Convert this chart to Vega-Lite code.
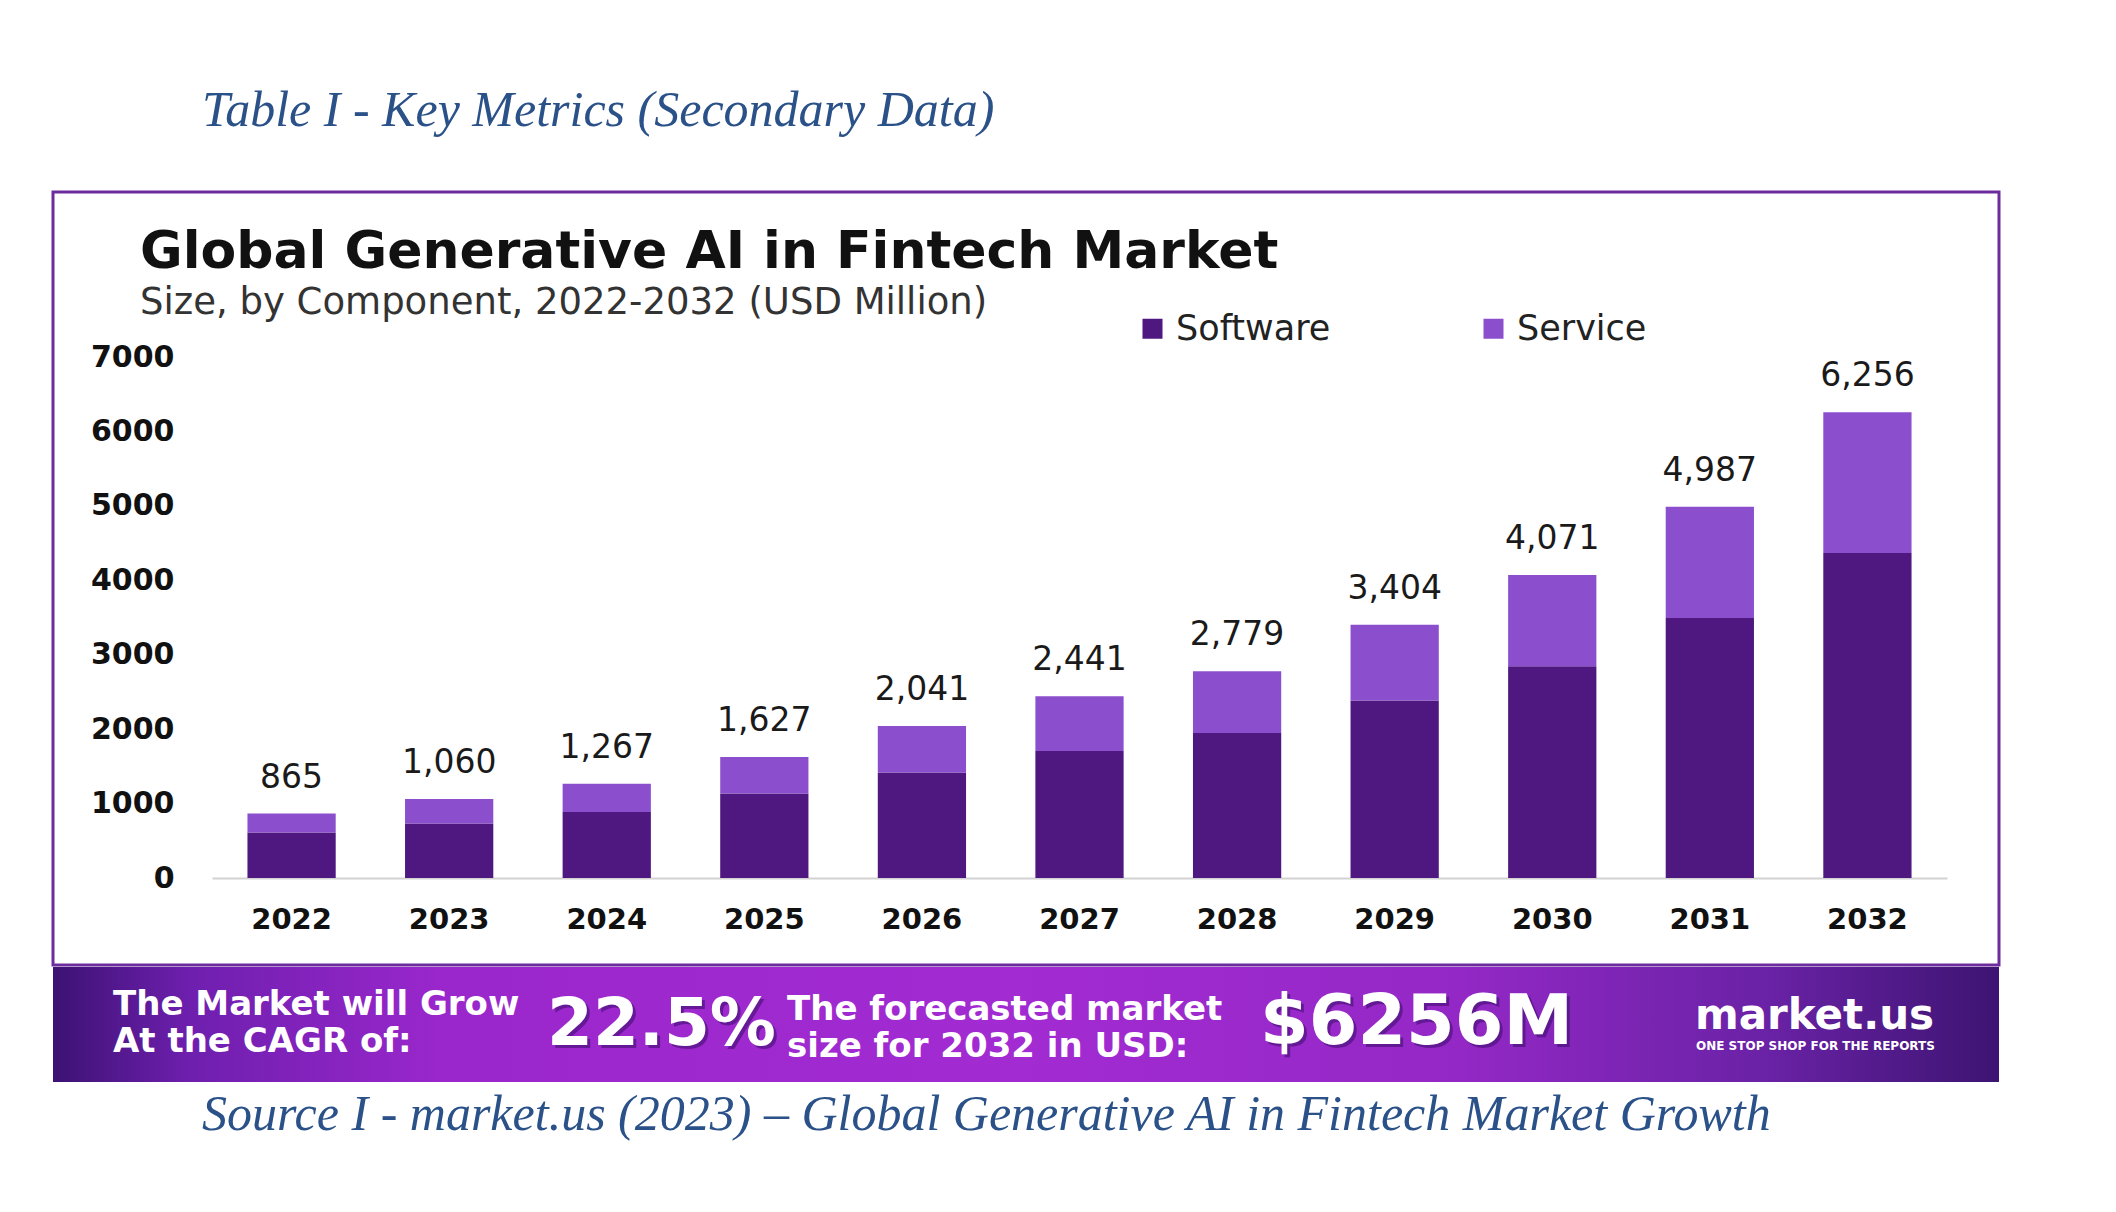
{
  "$schema": "https://vega.github.io/schema/vega-lite/v6.json",
  "background": "#ffffff",
  "padding": {"left": 51, "right": 119, "top": 85, "bottom": 68},
  "spacing": 0,
  "title": {
    "text": "Table I - Key Metrics (Secondary Data)",
    "anchor": "start",
    "frame": "group",
    "dx": 149,
    "offset": 55,
    "font": "Liberation Serif",
    "fontStyle": "italic",
    "fontWeight": "normal",
    "fontSize": 50,
    "color": "#2b5189"
  },
  "config": {
    "view": {"stroke": null}
  },
  "vconcat": [
    {
      "width": 1946,
      "height": 773,
      "view": {"stroke": "#6c2c9e", "strokeWidth": 3, "fill": "#ffffff"},
      "title": {
        "text": "Global Generative AI in Fintech Market",
        "subtitle": "Size, by Component, 2022-2032 (USD Million)",
        "anchor": "start",
        "frame": "group",
        "dx": 87,
        "offset": -130,
        "font": "DejaVu Sans",
        "fontSize": 52,
        "fontWeight": "bold",
        "color": "#111111",
        "subtitleFont": "DejaVu Sans",
        "subtitleFontSize": 37,
        "subtitleColor": "#333333",
        "subtitlePadding": 6
      },
      "data": {
        "values": [
          {"year": "2022", "component": "Software", "value": 611},
          {"year": "2022", "component": "Service", "value": 254},
          {"year": "2023", "component": "Software", "value": 732},
          {"year": "2023", "component": "Service", "value": 328},
          {"year": "2024", "component": "Software", "value": 887},
          {"year": "2024", "component": "Service", "value": 380},
          {"year": "2025", "component": "Software", "value": 1135},
          {"year": "2025", "component": "Service", "value": 492},
          {"year": "2026", "component": "Software", "value": 1419},
          {"year": "2026", "component": "Service", "value": 622},
          {"year": "2027", "component": "Software", "value": 1707},
          {"year": "2027", "component": "Service", "value": 734},
          {"year": "2028", "component": "Software", "value": 1949},
          {"year": "2028", "component": "Service", "value": 830},
          {"year": "2029", "component": "Software", "value": 2384},
          {"year": "2029", "component": "Service", "value": 1020},
          {"year": "2030", "component": "Software", "value": 2846},
          {"year": "2030", "component": "Service", "value": 1225},
          {"year": "2031", "component": "Software", "value": 3493},
          {"year": "2031", "component": "Service", "value": 1494},
          {"year": "2032", "component": "Software", "value": 4368},
          {"year": "2032", "component": "Service", "value": 1888}
        ]
      },
      "encoding": {
        "x": {
          "field": "year",
          "type": "ordinal",
          "scale": {"range": [159, 1894], "paddingInner": 0.44, "paddingOuter": 0.225},
          "axis": {
            "title": null,
            "orient": "bottom",
            "offset": -87,
            "domainColor": "#d2d2d2",
            "domainWidth": 2,
            "ticks": false,
            "tickSize": 0,
            "labelAngle": 0,
            "labelFont": "DejaVu Sans",
            "labelFontWeight": "bold",
            "labelFontSize": 29,
            "labelColor": "#111111",
            "labelPadding": 41,
            "labelBaseline": "middle"
          }
        }
      },
      "layer": [
        {
          "mark": {"type": "bar"},
          "encoding": {
            "y": {
              "field": "value",
              "type": "quantitative",
              "stack": "zero",
              "scale": {"domain": [0, 7000], "range": [686, 165], "nice": false},
              "axis": {
                "title": null,
                "orient": "left",
                "offset": -159,
                "domain": false,
                "ticks": false,
                "tickSize": 0,
                "grid": false,
                "values": [0, 1000, 2000, 3000, 4000, 5000, 6000, 7000],
                "format": "d",
                "labelFont": "DejaVu Sans",
                "labelFontWeight": "bold",
                "labelFontSize": 30,
                "labelColor": "#111111",
                "labelPadding": 38
              }
            },
            "color": {
              "field": "component",
              "type": "nominal",
              "scale": {"domain": ["Software", "Service"], "range": ["#4f1780", "#8b4fce"]},
              "legend": {
                "title": null,
                "orient": "none",
                "legendX": 1082,
                "legendY": 119,
                "direction": "horizontal",
                "symbolType": "square",
                "symbolSize": 400,
                "symbolStrokeWidth": 0,
                "labelFont": "DejaVu Sans",
                "labelFontSize": 35,
                "labelColor": "#222222",
                "labelOffset": 6,
                "columnPadding": 145
              }
            },
            "order": {"field": "component", "sort": "descending"}
          }
        },
        {
          "mark": {"type": "text", "baseline": "middle", "dy": -36, "font": "DejaVu Sans", "fontSize": 33, "color": "#1a1a1a"},
          "encoding": {
            "y": {"aggregate": "sum", "field": "value", "type": "quantitative"},
            "text": {"aggregate": "sum", "field": "value", "type": "quantitative", "format": ","}
          }
        }
      ]
    },
    {
      "width": 1946,
      "height": 115,
      "view": {
        "stroke": null,
        "fill": {
          "gradient": "linear",
          "x1": 0, "y1": 0, "x2": 1, "y2": 0,
          "stops": [
            {"offset": 0, "color": "#3c1273"},
            {"offset": 0.07, "color": "#6e1fae"},
            {"offset": 0.2, "color": "#9a27cc"},
            {"offset": 0.5, "color": "#a22bd2"},
            {"offset": 0.72, "color": "#9428c6"},
            {"offset": 0.88, "color": "#6a22a6"},
            {"offset": 1, "color": "#3d1472"}
          ]
        }
      },
      "title": {
        "text": "Source I - market.us (2023) – Global Generative AI in Fintech Market Growth",
        "orient": "bottom",
        "anchor": "start",
        "frame": "group",
        "dx": 149,
        "offset": 8,
        "font": "Liberation Serif",
        "fontStyle": "italic",
        "fontWeight": "normal",
        "fontSize": 50,
        "color": "#2b5189"
      },
      "layer": [
        {
          "data": {"values": [{"label": "The Market will Grow\nAt the CAGR of:"}]},
          "mark": {"type": "text", "x": 60, "y": 38, "align": "left", "baseline": "middle", "lineBreak": "\n", "lineHeight": 37, "font": "DejaVu Sans", "fontWeight": "bold", "fontSize": 34, "color": "#ffffff"},
          "encoding": {"text": {"field": "label", "type": "nominal"}}
        },
        {
          "data": {"values": [{"label": "22.5%"}]},
          "mark": {"type": "text", "x": 497, "y": 61, "align": "left", "baseline": "middle", "font": "DejaVu Sans", "fontWeight": "bold", "fontSize": 66, "color": "#3a0d6b", "opacity": 0.55},
          "encoding": {"text": {"field": "label", "type": "nominal"}}
        },
        {
          "data": {"values": [{"label": "22.5%"}]},
          "mark": {"type": "text", "x": 494, "y": 58, "align": "left", "baseline": "middle", "font": "DejaVu Sans", "fontWeight": "bold", "fontSize": 66, "color": "#ffffff"},
          "encoding": {"text": {"field": "label", "type": "nominal"}}
        },
        {
          "data": {"values": [{"label": "The forecasted market\nsize for 2032 in USD:"}]},
          "mark": {"type": "text", "x": 734, "y": 43, "align": "left", "baseline": "middle", "lineBreak": "\n", "lineHeight": 37, "font": "DejaVu Sans", "fontWeight": "bold", "fontSize": 34, "color": "#ffffff"},
          "encoding": {"text": {"field": "label", "type": "nominal"}}
        },
        {
          "data": {"values": [{"label": "$6256M"}]},
          "mark": {"type": "text", "x": 1210, "y": 59, "align": "left", "baseline": "middle", "font": "DejaVu Sans", "fontWeight": "bold", "fontSize": 70, "color": "#3a0d6b", "opacity": 0.55},
          "encoding": {"text": {"field": "label", "type": "nominal"}}
        },
        {
          "data": {"values": [{"label": "$6256M"}]},
          "mark": {"type": "text", "x": 1207, "y": 56, "align": "left", "baseline": "middle", "font": "DejaVu Sans", "fontWeight": "bold", "fontSize": 70, "color": "#ffffff"},
          "encoding": {"text": {"field": "label", "type": "nominal"}}
        },
        {
          "data": {"values": [{"label": "market.us"}]},
          "mark": {"type": "text", "x": 1642, "y": 62, "align": "left", "baseline": "alphabetic", "font": "DejaVu Sans", "fontWeight": "bold", "fontSize": 42, "color": "#ffffff"},
          "encoding": {"text": {"field": "label", "type": "nominal"}}
        },
        {
          "data": {"values": [{"label": "ONE STOP SHOP FOR THE REPORTS"}]},
          "mark": {"type": "text", "x": 1643, "y": 79, "align": "left", "baseline": "middle", "font": "DejaVu Sans", "fontWeight": "bold", "fontSize": 12, "color": "#ffffff"},
          "encoding": {"text": {"field": "label", "type": "nominal"}}
        }
      ]
    }
  ]
}
